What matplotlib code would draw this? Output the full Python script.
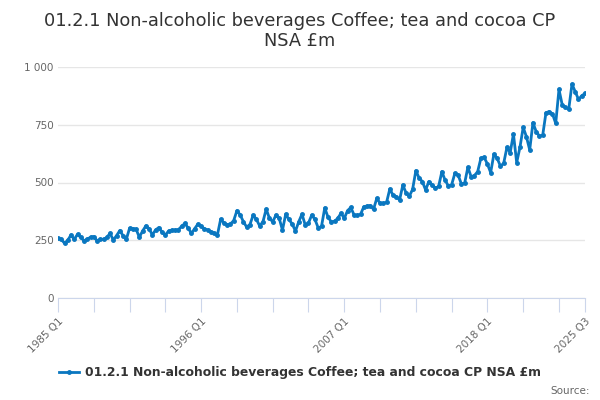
import numpy as np
import matplotlib
matplotlib.use("Agg")
import matplotlib.pyplot as plt
from matplotlib.lines import Line2D

# quarterly values, 1985 Q1 .. 2025 Q3 (£m)
values = [
    258, 254, 237, 250, 273, 254, 276, 262,  # 1985-1986
    248, 255, 263, 266, 248, 254, 254, 262,  # 1987-1988
    280, 251, 270, 292, 270, 254, 302, 300,  # 1989-1990
    298, 263, 290, 312, 300, 273, 295, 305,  # 1991-1992
    285, 273, 290, 294, 294, 296, 310, 323,  # 1993-1994
    303, 280, 300, 320, 310, 300, 295, 287,  # 1995-1996
    280, 273, 341, 325, 318, 320, 335, 378,  # 1997-1998
    360, 330, 307, 318, 359, 340, 312, 330,  # 1999-2000
    385, 345, 330, 359, 345, 294, 363, 340,  # 2001-2002
    320, 290, 330, 363, 316, 325, 359, 340,  # 2003-2004
    303, 310, 390, 350, 330, 332, 345, 367,  # 2005-2006
    345, 378, 392, 360, 358, 362, 395, 398,  # 2007-2008
    400, 384, 432, 410, 410, 414, 472, 445,  # 2009-2010
    439, 424, 489, 455, 441, 470, 551, 520,  # 2011-2012
    504, 468, 504, 490, 475, 483, 547, 510,  # 2013-2014
    485, 490, 540, 532, 494, 497, 566, 525,  # 2015-2016
    530, 547, 605, 609, 580, 543, 623, 605,  # 2017-2018
    571, 583, 652, 629, 710, 586, 652, 739,  # 2019-2020
    698, 641, 759, 720, 701, 705, 802, 807,  # 2021-2022
    797, 756, 903, 836, 825, 817, 926, 893,  # 2023-2024
    860, 875, 886,                           # 2025
]
series_name = "01.2.1 Non-alcoholic beverages Coffee; tea and cocoa CP NSA £m"

quarters = []
for y in range(1985, 2026):
    for q in range(1, 5):
        quarters.append(f"{y} Q{q}")
quarters = quarters[:len(values)]

ytick_vals = [0, 250, 500, 750, 1000]
ytick_labels = ["0", "250", "500", "750", "1 000"]

line_color = "#0a77c0"
grid_color = "#e6e6e6"
axis_color = "#ccd6eb"
label_color = "#666666"
title_color = "#333333"

fig = plt.figure(figsize=(6, 4), dpi=100)
ax = fig.add_axes([58 / 600, 1 - 298 / 400, 527 / 600, 231 / 400])

x = np.arange(len(values))
ax.plot(x, values, color=line_color, lw=2, marker="o", markersize=2.5,
        zorder=3)

ax.set_ylim(0, 1000)
ax.set_xlim(0, len(values) - 1)
ax.set_yticks(ytick_vals)
ax.set_yticklabels(ytick_labels)
ax.grid(axis="y", color=grid_color, lw=1)
ax.set_axisbelow(True)

# x ticks every 11 quarters, labels every 44 plus the last one
tick_pos = list(range(0, len(values), 11)) + [len(values) - 1]
tick_lab = []
for p in tick_pos:
    if p % 44 == 0 or p == len(values) - 1:
        tick_lab.append(quarters[p])
    else:
        tick_lab.append("")
ax.set_xticks(tick_pos)
ax.set_xticklabels(tick_lab, rotation=45, ha="right", rotation_mode="anchor")

for s in ["top", "right", "left"]:
    ax.spines[s].set_visible(False)
ax.spines["bottom"].set_color(axis_color)
ax.tick_params(axis="x", length=10, color=axis_color, labelsize=7.5,
               labelcolor=label_color, pad=3)
ax.tick_params(axis="y", length=0, labelsize=7.5, labelcolor=label_color,
               pad=3)

fig.text(0.5, 0.922, "01.2.1 Non-alcoholic beverages Coffee; tea and cocoa CP\nNSA £m",
         ha="center", va="center", fontsize=12.8, color=title_color,
         linespacing=1.1)

handle = Line2D([], [], color=line_color, lw=2, marker="o", markersize=2.5)
fig.legend([handle], [series_name], loc="center", bbox_to_anchor=(0.5, 0.068),
           frameon=False, prop={"weight": "bold", "size": 8.9},
           labelcolor=title_color, handlelength=1.6, handletextpad=0.5)

fig.text(0.983, 0.022, "Source:", ha="right", va="center", fontsize=7.5,
         color=label_color)

fig.savefig("out.png", dpi=100)
